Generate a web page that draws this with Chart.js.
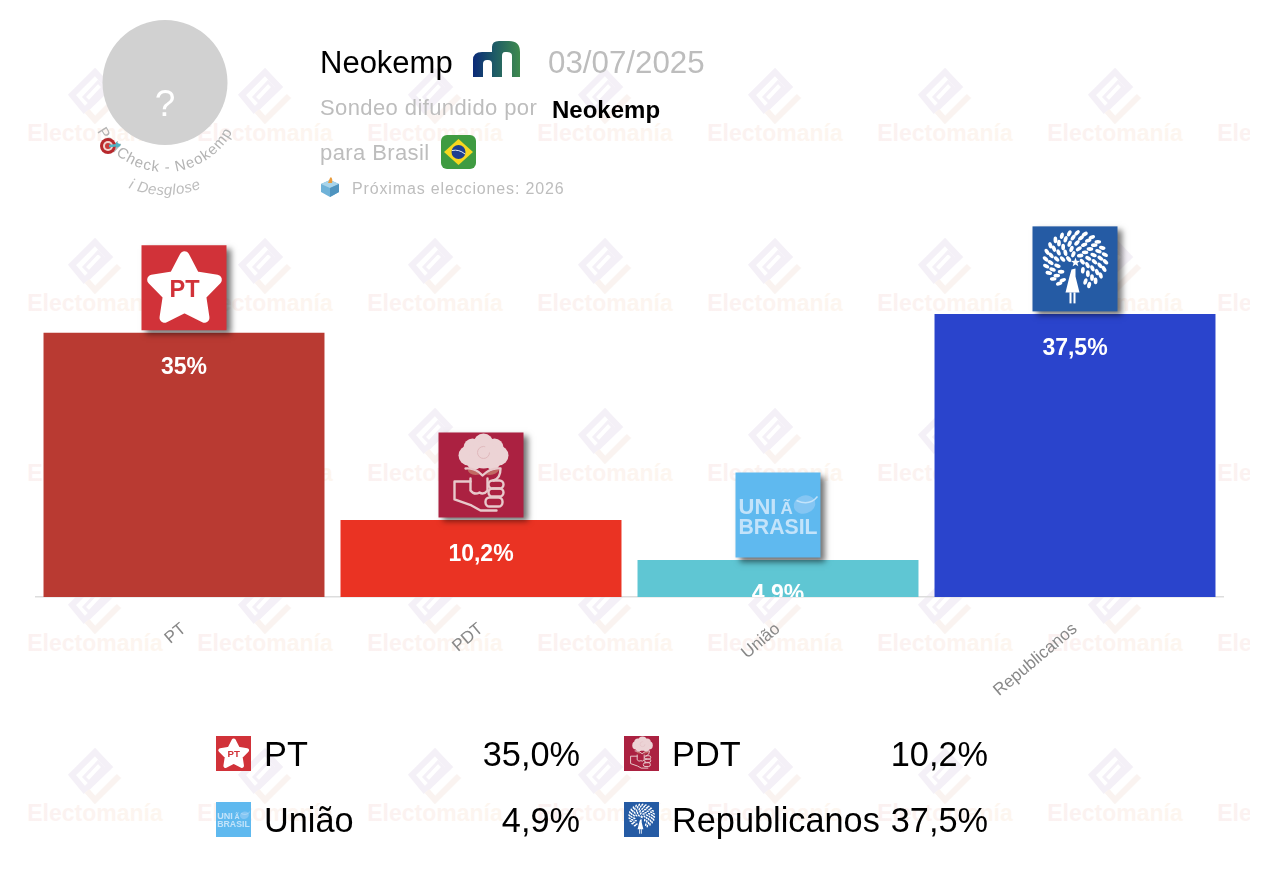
<!DOCTYPE html>
<html lang="es">
<head>
<meta charset="utf-8">
<title>Neokemp - Brasil</title>
<script src="https://cdn.jsdelivr.net/npm/chart.js@4"></script>
<style>
html,body{margin:0;padding:0;background:#fff;width:1266px;height:878px;overflow:hidden;font-family:"Liberation Sans",Arial,sans-serif}
#wm,#deco,#chart{position:absolute;left:0;top:0}
#wm{z-index:0}#chart{z-index:1}#deco{z-index:2}
.t{position:absolute;white-space:nowrap;z-index:3;line-height:1}
.g{color:#bdbdbd}
.lg{position:absolute;z-index:3;font-size:34.3px;line-height:1;color:#000;white-space:nowrap}
canvas.ic{position:absolute;z-index:3}
</style>
</head>
<body>
<svg id="wm" width="1250" height="878" xmlns="http://www.w3.org/2000/svg"></svg>
<canvas id="chart" width="1266" height="878"></canvas>
<svg id="deco" width="1266" height="878" xmlns="http://www.w3.org/2000/svg">
  <defs>
    <linearGradient id="nk" x1="0" x2="1" y1="0" y2="0"><stop offset="0" stop-color="#0b2a78"/><stop offset=".45" stop-color="#1d5a66"/><stop offset="1" stop-color="#3f8a4e"/></linearGradient>
    <path id="arc1" d="M 88 95 A 77 77 0 0 0 242 95"/>
    <path id="arc2" d="M 65 95 A 100 100 0 0 0 265 95"/>
  </defs>
  <circle cx="165" cy="82.5" r="62.5" fill="#d1d1d1"/>
  <text x="165" y="116" text-anchor="middle" font-size="37" fill="#fff" font-family="Liberation Sans">?</text>
  <text font-family="Liberation Sans" font-size="15" letter-spacing="1.1" fill="#b3b3b3"><textPath href="#arc1" startOffset="50%" text-anchor="middle">PollCheck - Neokemp</textPath></text>
  <text font-family="Liberation Sans" font-size="15" font-style="italic" letter-spacing=".5" fill="#bdbdbd"><textPath href="#arc2" startOffset="50%" text-anchor="middle">i  Desglose</textPath></text>
  <g>
    <circle cx="108" cy="146" r="8" fill="#b7282c"/><circle cx="108" cy="146" r="5" fill="#f0d5d0"/><circle cx="108" cy="146" r="3" fill="#c93a3a"/>
    <path d="M109 146 L120 145" stroke="#4fb4c4" stroke-width="2.5"/><path d="M116 142 l5 3 l-5 3z" fill="#4fb4c4"/>
  </g>
  <path d="M473 77 V60 Q473 52 482 52 H492 V47 Q492 41 499 41 H509 Q520 41 520 52 V77 H512 V56 Q512 52 507 52 H505 Q502 52 502 56 V77 H492 V64 Q492 60 488 60 H487 Q483 60 483 64 V77 Z" fill="url(#nk)"/>
  <rect x="441" y="135" width="35" height="34" rx="6" fill="#3f9b41"/>
  <path d="M458.500 139 L473 152 L458.500 165 L444 152 Z" fill="#f7d81f"/>
  <circle cx="458.500" cy="152" r="7" fill="#1e3f8f"/>
  <path d="M452 150.500 Q459 149 465 154" stroke="#e6eef2" stroke-width="1" fill="none"/>
  <path d="M321 184 L330 180 L339 184 V192 L330 197 L321 192 Z" fill="#6fb2d8"/>
  <path d="M321 184 L330 188 L339 184 L330 180 Z" fill="#a8d4ea"/>
  <path d="M330 188 V197 L339 192 V184 Z" fill="#4f94bf"/>
  <path d="M328 183 Q330 177 331 177 Q333 179 332 183 Z" fill="#e99b3c"/>
</svg>
<span class="t" style="left:320px;top:47px;font-size:31px;color:#000">Neokemp</span>
<span class="t g" style="left:548px;top:47px;font-size:31.3px">03/07/2025</span>
<span class="t g" style="left:320px;top:97px;font-size:22px;letter-spacing:.4px">Sondeo difundido por</span>
<span class="t" style="left:552px;top:98px;font-size:24px;font-weight:bold;color:#000">Neokemp</span>
<span class="t g" style="left:320px;top:142px;font-size:22px;letter-spacing:.4px">para Brasil</span>
<span class="t g" style="left:352px;top:181px;font-size:16px;letter-spacing:.85px">Próximas elecciones: 2026</span>
<div id="legend"></div>
<script>
const categories = ["PT", "PDT", "União", "Republicanos"];
const values = [35, 10.2, 4.9, 37.5];
const barColors = ["#b93a32", "#ea3323", "#5fc6d3", "#2a44cc"];
const logoColors = ["#d13239", "#ab2141", "#5fb9ef", "#255ba4"];

/* ---------- watermark ---------- */
(function(){
  const wm = document.getElementById("wm");
  let html = '<defs><linearGradient id="wg"><stop offset="0" stop-color="#fbf1f1"/><stop offset="1" stop-color="#fdf6ef"/></linearGradient></defs>';
  for (let r = 0; r < 5; r++) for (let c = 0; c < 8; c++) {
    const x = 95 + 170 * c, y = 95 + 170 * r;
    html += `<g transform="translate(${x},${y})">
      <path d="M-9 17 L-23 0 L0 -23 L14 -8 L-9 14" fill="none" stroke="#f4f0f7" stroke-width="6"/>
      <path d="M-11 2 L3 -13 L8 -8 L-6 7 Z" fill="none" stroke="#f4f0f7" stroke-width="3"/>
      <path d="M-8 16 L0 25 L24 1" fill="none" stroke="#faf3f0" stroke-width="6"/>
    </g>
    <text x="${x}" y="${y + 46}" text-anchor="middle" font-family="Liberation Sans" font-weight="bold" font-size="23" fill="url(#wg)">Electomanía</text>`;
  }
  wm.innerHTML = html;
})();

/* ---------- party logos, drawn in an 85-unit box ---------- */
function star(ctx){
  const cx = 43, cy = 45, R = 34, r = 17.5;
  ctx.beginPath();
  for (let i = 0; i < 10; i++) {
    const a = -Math.PI / 2 + i * Math.PI / 5, q = i % 2 ? r : R;
    ctx[i ? "lineTo" : "moveTo"](cx + q * Math.cos(a), cy + q * Math.sin(a));
  }
  ctx.closePath();
  ctx.fillStyle = "#fff"; ctx.strokeStyle = "#fff"; ctx.lineWidth = 10; ctx.lineJoin = "round";
  ctx.fill(); ctx.stroke();
  ctx.fillStyle = "#d13239"; ctx.font = "bold 24px 'Liberation Sans'"; ctx.textAlign = "center"; ctx.textBaseline = "middle";
  ctx.fillText("PT", 43, 45, 30);
}
function rose(ctx){
  ctx.fillStyle = "#ecd3d5";
  [[45,11,10],[34,15,9],[56,15,9],[30,23,10],[60,23,10],[45,22,14],[36,29,8],[54,29,8]].forEach(p=>{ctx.beginPath();ctx.arc(p[0],p[1],p[2],0,7);ctx.fill();});
  ctx.strokeStyle = "#e0b9bc"; ctx.lineWidth = 1; ctx.beginPath(); ctx.arc(45,20,6,0,5); ctx.stroke();
  ctx.fillStyle = "#c06a62";
  ctx.beginPath();ctx.moveTo(29,37);ctx.quadraticCurveTo(37,37,41,42);ctx.quadraticCurveTo(31,44,29,37);ctx.fill();
  ctx.beginPath();ctx.moveTo(61,37);ctx.quadraticCurveTo(53,37,47,42);ctx.quadraticCurveTo(57,44,61,37);ctx.fill();
  ctx.strokeStyle = "#e8c9cb"; ctx.lineWidth = 2.4; ctx.lineJoin = "round"; ctx.lineCap = "round";
  ctx.beginPath();ctx.moveTo(27,36);ctx.quadraticCurveTo(37,35,44,43);ctx.quadraticCurveTo(52,35,62,36);ctx.quadraticCurveTo(62,46,55,48);ctx.stroke();
  ctx.beginPath();ctx.moveTo(32,49);ctx.lineTo(16,49);ctx.lineTo(16,67);ctx.lineTo(33,73);ctx.lineTo(42,78);ctx.lineTo(58,78);ctx.stroke();
  ctx.beginPath();ctx.moveTo(32,46);ctx.lineTo(32,58);ctx.quadraticCurveTo(36,63,41,60);ctx.quadraticCurveTo(45,63,49,58);ctx.lineTo(49,46);ctx.stroke();
  [[50,48,65,8],[50,56,65,8],[47,65,64,9]].forEach(b=>{ctx.beginPath();ctx.roundRect(b[0],b[1],b[2]-b[0],b[3],4);ctx.stroke();});
}
function uniao(ctx){
  ctx.fillStyle = "#c3e3fa"; ctx.textAlign = "left"; ctx.textBaseline = "alphabetic";
  ctx.font = "bold 22px 'Liberation Sans'";
  ctx.fillText("UNI", 3, 41, 40);
  ctx.fillText("BRASIL", 3, 61, 79);
  ctx.font = "bold 17px 'Liberation Sans'";
  ctx.fillText("Ã", 45, 41, 13);
  ctx.fillStyle = "#85c6f3"; ctx.beginPath(); ctx.ellipse(69, 32, 11, 9, -0.3, 0, 7); ctx.fill();
  ctx.strokeStyle = "#c3e3fa"; ctx.lineWidth = 1.4; ctx.beginPath(); ctx.moveTo(61,28); ctx.quadraticCurveTo(74,34,82,24); ctx.stroke();
}
function tree(ctx){
  const cx = 43, cy = 34;
  ctx.fillStyle = "#fff";
  const rings = [[7,6],[13,11],[19,16],[25,20],[30,24]];
  rings.forEach((rg, k) => {
    for (let i = 0; i < rg[1]; i++) {
      const a = (i + (k % 2) * 0.5 + 0.2) / rg[1] * Math.PI * 2;
      const x = cx + rg[0] * Math.cos(a), y = cy + rg[0] * Math.sin(a) * 0.92;
      if (y > 60 || (x > 31 && x < 50 && y > 38)) continue;
      ctx.beginPath(); ctx.ellipse(x, y, 3.3, 1.9, a + 0.7, 0, 7); ctx.fill();
    }
  });
  ctx.beginPath();
  for (let i = 0; i < 10; i++) {
    const a = -Math.PI / 2 + i * Math.PI / 5, q = i % 2 ? 2 : 4.8;
    ctx[i ? "lineTo" : "moveTo"](43 + q * Math.cos(a), 36 + q * Math.sin(a));
  }
  ctx.fill();
  ctx.beginPath();
  ctx.moveTo(39, 43); ctx.lineTo(43, 42); ctx.lineTo(43, 50); ctx.lineTo(47, 66); ctx.lineTo(33, 66);
  ctx.lineTo(37, 50); ctx.closePath(); ctx.fill();
  ctx.fillRect(37, 66, 2, 11); ctx.fillRect(41, 66, 2, 11);
}
const logoDrawers = [star, rose, uniao, tree];
function drawLogo(ctx, i, x, y, size, shadow){
  ctx.save();
  ctx.translate(x, y);
  const s = size / 85;
  ctx.scale(s, s);
  if (shadow) { ctx.shadowColor = "rgba(0,0,0,.55)"; ctx.shadowBlur = 6; ctx.shadowOffsetX = 4; ctx.shadowOffsetY = 4; }
  ctx.fillStyle = logoColors[i];
  ctx.fillRect(0, 0, 85, 85);
  ctx.shadowColor = "transparent";
  logoDrawers[i](ctx);
  ctx.restore();
}

/* ---------- legend ---------- */
(function(){
  const box = document.getElementById("legend");
  const colX = [216, 624], rowY = [736, 802], valRight = [580, 988];
  categories.forEach((name, i) => {
    const c = i % 2, r = Math.floor(i / 2);
    const cv = document.createElement("canvas");
    cv.className = "ic"; cv.width = 35; cv.height = 35;
    cv.style.left = colX[c] + "px"; cv.style.top = rowY[r] + "px";
    box.appendChild(cv);
    drawLogo(cv.getContext("2d"), i, 0, 0, 35, false);
    const n = document.createElement("span");
    n.className = "lg"; n.textContent = name;
    n.style.left = (colX[c] + 48) + "px"; n.style.top = (rowY[r] + 1) + "px";
    box.appendChild(n);
    const v = document.createElement("span");
    v.className = "lg"; v.textContent = values[i].toFixed(1).replace(".", ",") + "%";
    v.style.right = (1266 - valRight[c]) + "px"; v.style.top = (rowY[r] + 1) + "px";
    box.appendChild(v);
  });
})();

/* ---------- chart ---------- */
const overlay = {
  id: "overlay",
  afterDatasetsDraw(chart) {
    const ctx = chart.ctx, a = chart.chartArea, meta = chart.getDatasetMeta(0);
    meta.data.forEach((bar, i) => {
      ctx.save();
      ctx.beginPath(); ctx.rect(a.left, 0, a.right - a.left, a.bottom); ctx.clip();
      ctx.fillStyle = "#fff"; ctx.font = "bold 23px 'Liberation Sans'";
      ctx.textAlign = "center"; ctx.textBaseline = "middle";
      ctx.fillText(String(values[i]).replace(".", ",") + "%", bar.x, bar.y + 35);
      ctx.restore();
      drawLogo(ctx, i, bar.x - 42.5, bar.y - 87.5, 85, true);
    });
  }
};
new Chart(document.getElementById("chart"), {
  type: "bar",
  data: { labels: categories, datasets: [{ data: values, backgroundColor: barColors, borderWidth: 0, barPercentage: 0.946, categoryPercentage: 1 }] },
  plugins: [overlay],
  options: {
    responsive: false, animation: false, devicePixelRatio: 1,
    layout: { padding: { left: 35.5, right: 42.5, top: 295, bottom: 0 } },
    plugins: { legend: { display: false }, tooltip: { enabled: false } },
    scales: {
      y: { display: false, min: 0, max: 40 },
      x: {
        afterFit(s) { s.height = 281; },
        grid: { display: false },
        border: { color: "#dddddd", width: 1.5 },
        ticks: { color: "#888888", font: { family: "'Liberation Sans'", size: 17 }, minRotation: 40, maxRotation: 40, padding: 14 }
      }
    }
  }
});
</script>
</body>
</html>
